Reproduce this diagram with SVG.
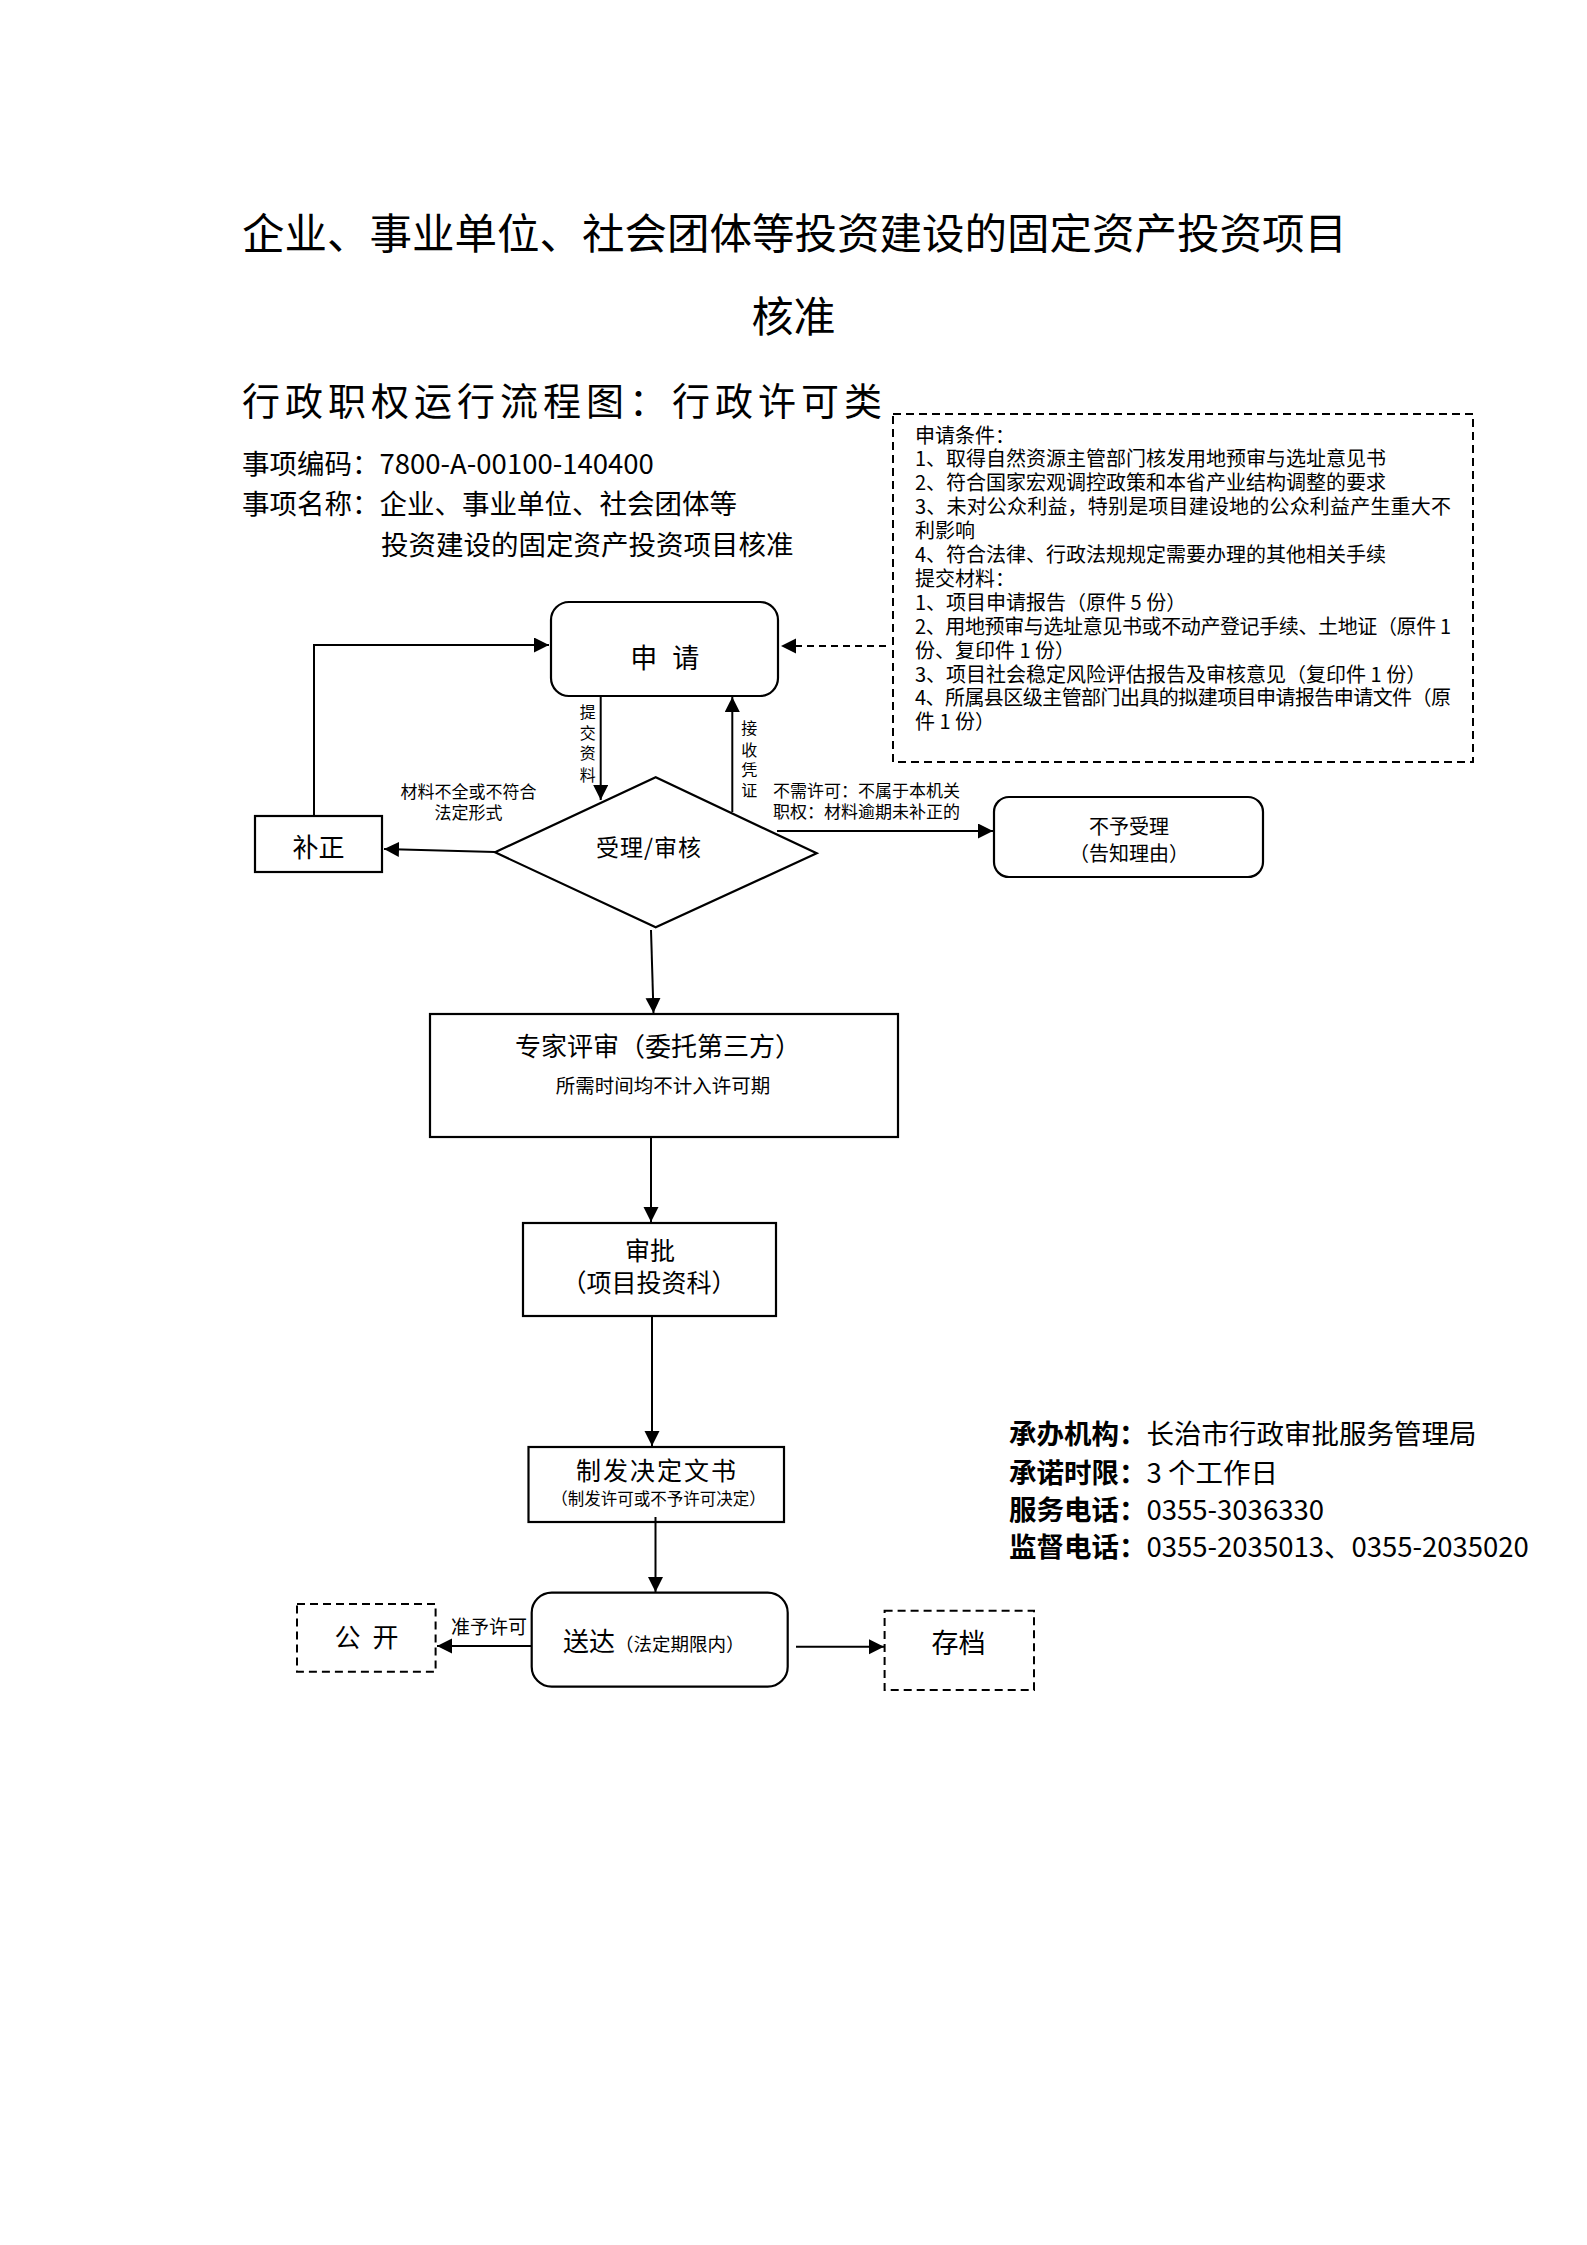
<svg xmlns="http://www.w3.org/2000/svg" width="1587" height="2245" viewBox="0 0 1587 2245">
<style>
text{font-family:"Noto Sans CJK SC","Noto Sans",sans-serif;fill:#000}
.box{fill:#fff;stroke:#000;stroke-width:2.2}
.dbox{fill:none;stroke:#000;stroke-width:2;stroke-dasharray:8 5}
.ln{fill:none;stroke:#000;stroke-width:2}
.dl{fill:none;stroke:#000;stroke-width:2;stroke-dasharray:7 5}
.c{text-anchor:middle}
.cond{font-size:20px}
.lab{font-size:17px}
.vl{font-size:16px;text-anchor:middle}
.b{font-weight:bold}
.info{font-size:27.5px}
</style>
<defs>
<marker id="ah" markerUnits="userSpaceOnUse" markerWidth="16" markerHeight="16" refX="15" refY="7.5" orient="auto">
<path d="M0,0 L15,7.5 L0,15 Z" fill="#000"/>
</marker>
</defs>
<rect width="1587" height="2245" fill="#fff"/>

<g id="header">
<text x="242" y="249" font-size="42.5">企业、事业单位、社会团体等投资建设的固定资产投资项目</text>
<text x="793.5" y="332" font-size="42" class="c">核准</text>
<text x="242" y="415" font-size="38" letter-spacing="5">行政职权运行流程图：行政许可类</text>
<text x="242" y="474" font-size="27.5">事项编码：7800-A-00100-140400</text>
<text x="242" y="514" font-size="27.5">事项名称：企业、事业单位、社会团体等</text>
<text x="381" y="555" font-size="27.5">投资建设的固定资产投资项目核准</text>
</g>

<g id="conditions">
<rect x="893" y="414" width="580" height="348" class="dbox"/>
<text class="cond" x="915" y="442.5">申请条件：</text>
<text class="cond" x="915" y="466.4">1、取得自然资源主管部门核发用地预审与选址意见书</text>
<text class="cond" x="915" y="490.3">2、符合国家宏观调控政策和本省产业结构调整的要求</text>
<text class="cond" x="915" y="514.2" textLength="536" lengthAdjust="spacing">3、未对公众利益，特别是项目建设地的公众利益产生重大不</text>
<text class="cond" x="915" y="538.1">利影响</text>
<text class="cond" x="915" y="562">4、符合法律、行政法规规定需要办理的其他相关手续</text>
<text class="cond" x="915" y="585.9">提交材料：</text>
<text class="cond" x="915" y="609.8">1、项目申请报告（原件 5 份）</text>
<text class="cond" x="915" y="633.7" textLength="536" lengthAdjust="spacing">2、用地预审与选址意见书或不动产登记手续、土地证（原件 1</text>
<text class="cond" x="915" y="657.6">份、复印件 1 份）</text>
<text class="cond" x="915" y="681.5">3、项目社会稳定风险评估报告及审核意见（复印件 1 份）</text>
<text class="cond" x="915" y="705.4" textLength="536" lengthAdjust="spacing">4、所属县区级主管部门出具的拟建项目申请报告申请文件（原</text>
<text class="cond" x="915" y="729.3">件 1 份）</text>
</g>

<g id="apply">
<rect x="551" y="602" width="227" height="94" rx="18" ry="18" class="box"/>
<text x="667" y="668" font-size="27" letter-spacing="4.5" class="c">申 请</text>
</g>

<g id="review">
<path d="M495,852.3 L655.7,777.3 L816.7,853.3 L655.7,927.3 Z" class="box"/>
<text x="649" y="856" font-size="23" letter-spacing="1" class="c">受理/审核</text>
</g>

<g id="correct">
<rect x="255" y="816" width="127" height="56" class="box"/>
<text x="318.5" y="856.5" font-size="26" class="c">补正</text>
</g>

<g id="reject">
<rect x="994" y="797" width="269" height="80" rx="15" ry="15" class="box"/>
<text x="1129" y="833.5" font-size="20" class="c">不予受理</text>
<text x="1129" y="860.5" font-size="20" class="c">（告知理由）</text>
</g>

<g id="expert">
<rect x="430" y="1014" width="468" height="123" class="box"/>
<text x="658" y="1056" font-size="26" class="c">专家评审（委托第三方）</text>
<text x="663" y="1093" font-size="19.5" class="c">所需时间均不计入许可期</text>
</g>

<g id="approve">
<rect x="523" y="1223" width="253" height="93" class="box"/>
<text x="650" y="1260" font-size="25" class="c">审批</text>
<text x="649" y="1291.5" font-size="25" class="c">（项目投资科）</text>
</g>

<g id="decision">
<rect x="528.5" y="1447" width="255.5" height="75" class="box"/>
<text x="657" y="1479.5" font-size="25" letter-spacing="2" class="c">制发决定文书</text>
<text x="658.5" y="1505" font-size="16.5" class="c">（制发许可或不予许可决定）</text>
</g>

<g id="deliver">
<rect x="531.7" y="1592.7" width="256" height="94" rx="20" ry="20" class="box"/>
<text x="563" y="1651" font-size="26">送达<tspan font-size="18.5">（法定期限内）</tspan></text>
</g>

<g id="public">
<rect x="297" y="1604" width="138.6" height="67.7" class="dbox"/>
<text x="368" y="1646.5" font-size="26" letter-spacing="3" class="c">公 开</text>
</g>

<g id="archive">
<rect x="884.6" y="1610.7" width="149.4" height="79.3" class="dbox"/>
<text x="958.6" y="1652.5" font-size="27" class="c">存档</text>
</g>

<g id="connectors">
<polyline points="314,816 314,645 549,645" class="ln" marker-end="url(#ah)"/>
<line x1="600.7" y1="696" x2="600.7" y2="800" class="ln" marker-end="url(#ah)"/>
<line x1="732.3" y1="812" x2="732.3" y2="697" class="ln" marker-end="url(#ah)"/>
<line x1="495" y1="852" x2="384" y2="849" class="ln" marker-end="url(#ah)"/>
<line x1="777" y1="831" x2="993" y2="831" class="ln" marker-end="url(#ah)"/>
<line x1="886" y1="646" x2="781" y2="646" class="dl" marker-end="url(#ah)"/>
<line x1="651" y1="930" x2="653.5" y2="1013" class="ln" marker-end="url(#ah)"/>
<line x1="651" y1="1138" x2="651" y2="1222" class="ln" marker-end="url(#ah)"/>
<line x1="652" y1="1317" x2="652" y2="1446" class="ln" marker-end="url(#ah)"/>
<line x1="655.5" y1="1517" x2="655.5" y2="1592" class="ln" marker-end="url(#ah)"/>
<line x1="531" y1="1646" x2="437" y2="1646" class="ln" marker-end="url(#ah)"/>
<line x1="796" y1="1646.7" x2="884" y2="1646.7" class="ln" marker-end="url(#ah)"/>
</g>

<g id="labels">
<text class="vl" x="587.7" y="717.5">提</text>
<text class="vl" x="587.7" y="739">交</text>
<text class="vl" x="587.7" y="759">资</text>
<text class="vl" x="587.7" y="780.5">料</text>
<text class="vl" x="749.3" y="734">接</text>
<text class="vl" x="749.3" y="755.5">收</text>
<text class="vl" x="749.3" y="775.5">凭</text>
<text class="vl" x="749.3" y="796">证</text>
<text class="lab c" x="468.5" y="798">材料不全或不符合</text>
<text class="lab c" x="468.5" y="819">法定形式</text>
<text class="lab" x="773" y="796.5">不需许可：不属于本机关</text>
<text class="lab" x="773" y="818">职权：材料逾期未补正的</text>
<text x="451" y="1633.5" font-size="19">准予许可</text>
</g>

<g id="info">
<text class="info" x="1009" y="1443.5"><tspan class="b">承办机构：</tspan>长治市行政审批服务管理局</text>
<text class="info" x="1009" y="1482.5"><tspan class="b">承诺时限：</tspan>3 个工作日</text>
<text class="info" x="1009" y="1519.5"><tspan class="b">服务电话：</tspan>0355-3036330</text>
<text class="info" x="1009" y="1556.5"><tspan class="b">监督电话：</tspan>0355-2035013、0355-2035020</text>
</g>
</svg>
